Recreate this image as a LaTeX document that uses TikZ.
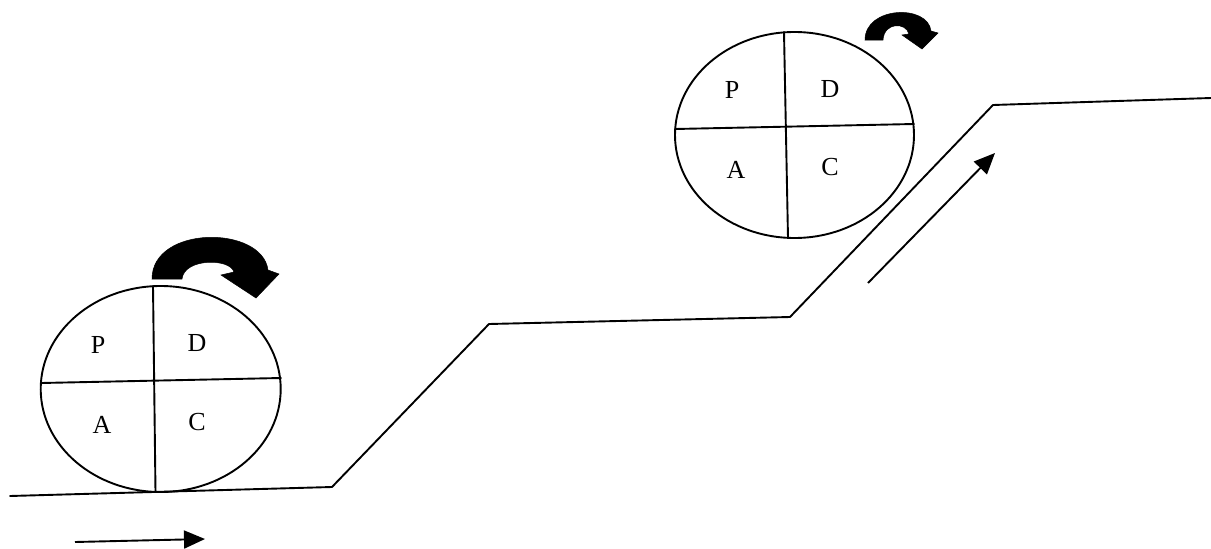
\documentclass[tikz,border=0pt]{standalone}
\usepackage{fontspec}
\setmainfont{Liberation Serif}
\usetikzlibrary{arrows.meta,shapes.geometric}
\begin{document}
\begin{tikzpicture}[x=1pt,y=-1pt,
  thinline/.style={line width=1.9pt,line cap=round,line join=round},
  wheel/.style={draw,ellipse,line width=1.9pt,inner sep=0pt},
  letter/.style={font=\fontsize{26}{31}\selectfont,inner sep=0pt},
  turn/.style={fill=black,draw=black,line width=0.5pt},
  flow/.style={line width=1.9pt,-{Triangle[length=21pt,width=18pt]}}]
\useasboundingbox (0,0) rectangle (1211,549);
% ground
\draw[thinline] (10,496) -- (332,487) -- (489,324) -- (790,317) -- (993,105) -- (1211,98);
% left wheel
\node[wheel,minimum width=240pt,minimum height=206pt] (w1) at (160.7,389) {};
\coordinate (w1t) at (153,286);
\coordinate (w1b) at (155.5,492);
\coordinate (w1l) at (41,383);
\coordinate (w1r) at (281,378);
\draw[thinline] (w1t) -- (w1b);
\draw[thinline] (w1l) -- (w1r);
\node[letter] (p1) at (98,345) {P};
\node[letter] (d1) at (197,343) {D};
\node[letter] (a1) at (102,425) {A};
\node[letter] (c1) at (197,422) {C};
% right wheel
\node[wheel,minimum width=239pt,minimum height=206pt] (w2) at (794.5,135) {};
\coordinate (w2t) at (784,32);
\coordinate (w2b) at (788,238);
\coordinate (w2l) at (675,129);
\coordinate (w2r) at (914,124);
\draw[thinline] (w2t) -- (w2b);
\draw[thinline] (w2l) -- (w2r);
\node[letter] (p2) at (732,90) {P};
\node[letter] (d2) at (830,89) {D};
\node[letter] (a2) at (736,170) {A};
\node[letter] (c2) at (830,167) {C};
% curved turning arrows
\path[turn] (152,279) .. controls (152,225) and (262,225) .. (268,270)
  -- (279,274) -- (256,298) -- (221,275) -- (234,272)
  .. controls (230,258) and (184,258) .. (182,279) -- cycle;
\path[turn] (865,40) .. controls (865,6) and (928,4) .. (931,31)
  -- (938,33) -- (922,49) -- (902,35) -- (909,34)
  .. controls (906,22) and (884,22) .. (883,40) -- cycle;
% direction arrows
\coordinate (f1s) at (75,542);
\coordinate (f1e) at (205,539);
\draw[flow] (f1s) -- (f1e);
\coordinate (f2s) at (868,283);
\coordinate (f2e) at (995,153);
\draw[flow] (f2s) -- (f2e);
\end{tikzpicture}
\end{document}
